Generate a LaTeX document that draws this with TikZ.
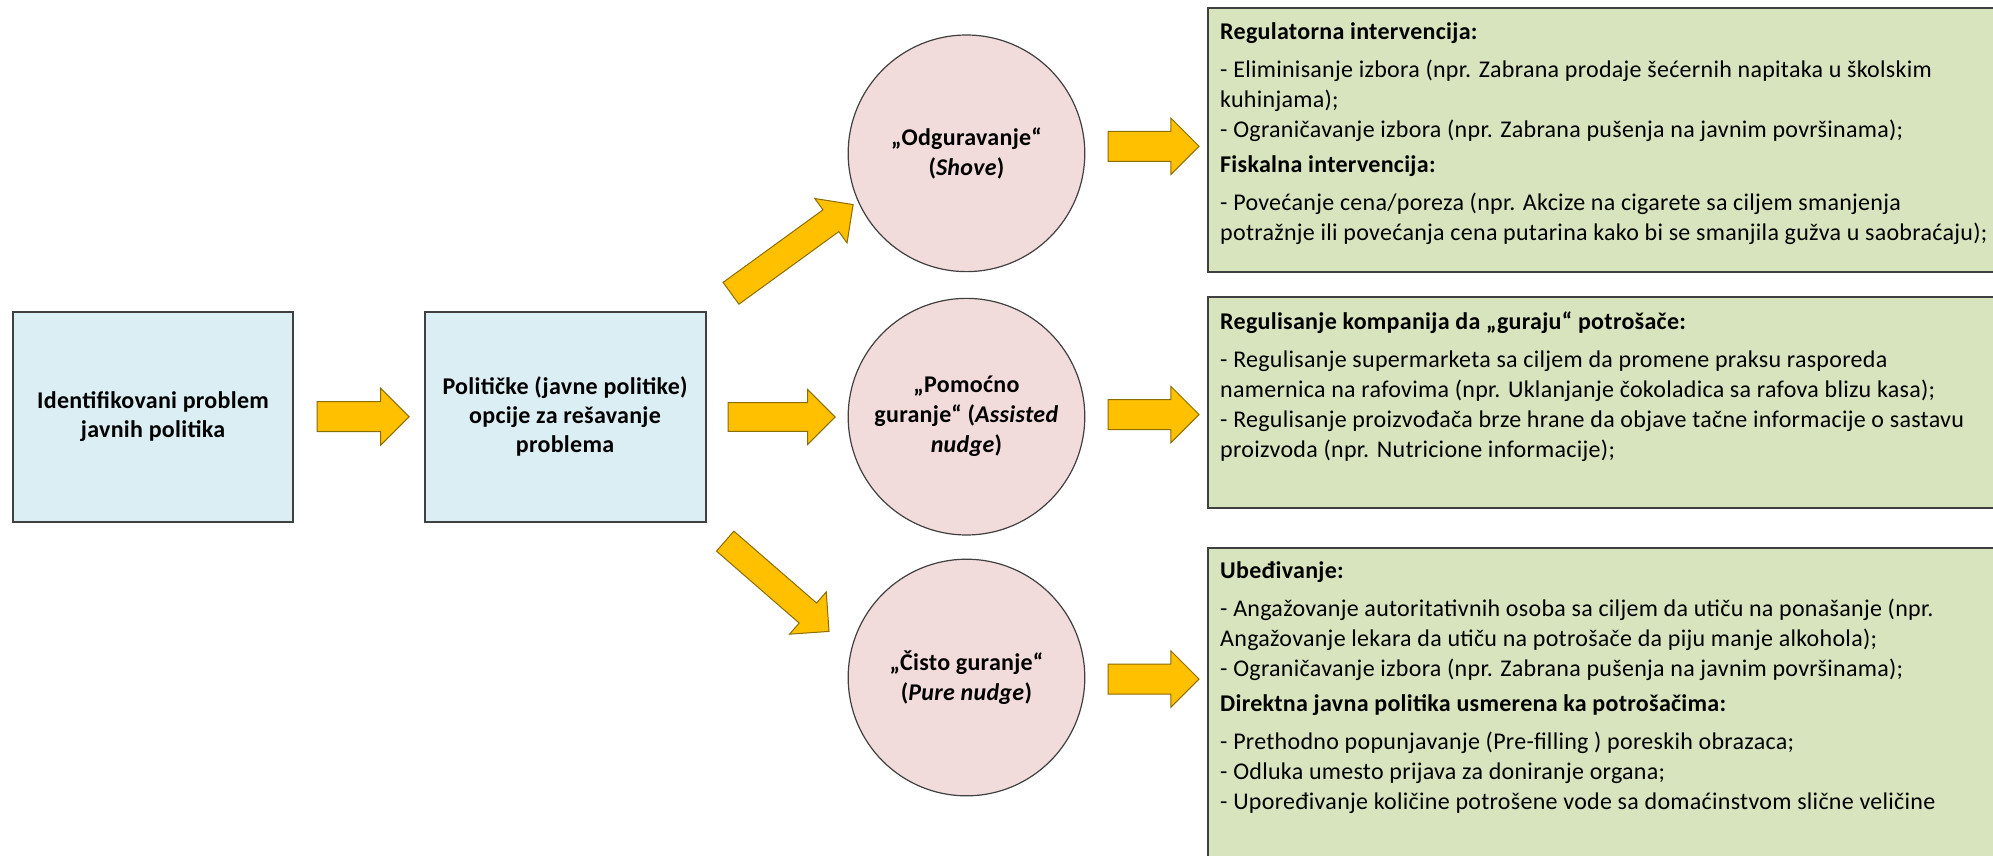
\documentclass[tikz,border=0pt]{standalone}
\usepackage{fontspec}
\setmainfont[LetterSpace=1.2]{Carlito}
\usetikzlibrary{shapes.arrows}
\pgfdeclarelayer{bg}
\pgfsetlayers{bg,main}
\definecolor{boxblue}{HTML}{DAEEF3}
\definecolor{circpink}{HTML}{F2DCDB}
\definecolor{notegreen}{HTML}{D7E4BD}
\definecolor{arrowfill}{HTML}{FFC000}
\definecolor{arrowline}{HTML}{8C6D00}
\definecolor{edgegray}{HTML}{404040}
\tikzset{
        problembox/.style={rectangle, draw=edgegray, line width=1pt, fill=boxblue, inner sep=0pt, align=center, font=\bfseries\fontsize{12}{14.5}\selectfont},
        nudge/.style={circle, draw=edgegray, line width=0.6pt, fill=circpink, inner sep=0pt, minimum size=4.158cm, align=center, font=\bfseries\fontsize{12}{15}\selectfont},
        notebox/.style={rectangle, draw=edgegray, line width=1pt, fill=notegreen, inner sep=0pt, minimum width=14.09cm},
        notetext/.style={anchor=north west, inner sep=0pt, align=left, font=\fontsize{12}{15}\selectfont},
        fatarrow/.style={single arrow, draw=arrowline, line width=0.5pt, fill=arrowfill, inner xsep=0pt, inner ysep=0.255cm, single arrow head extend=0.23cm, single arrow tip angle=90}
}

\begin{document}
\begin{tikzpicture}
        \useasboundingbox (0cm, 0cm) rectangle (35.023cm, -15.025cm);
        \clip (0cm, 0cm) rectangle (35.023cm, -15.025cm);
        \node (b0) [problembox, minimum width=4.931cm, minimum height=3.690cm] at (2.690cm, -7.323cm) {Identifikovani problem\\javnih politika};
        \node (b1) [problembox, minimum width=4.940cm, minimum height=3.690cm] at (9.930cm, -7.323cm) {Političke (javne politike)\\opcije za rešavanje\\problema};
        \node (c0) [nudge] at (16.984cm, -2.694cm) {„Odguravanje“\\(\textit{Shove})};
        \node (c1) [nudge] at (16.984cm, -7.322cm) {„Pomoćno\\guranje“ (\textit{Assisted}\\\textit{nudge})};
        \node (c2) [nudge] at (16.984cm, -11.906cm) {„Čisto guranje“\\(\textit{Pure nudge})};
        \node (g0) [notebox, minimum height=4.629cm] at (28.273cm, -2.460cm) {};
        \node (g1) [notebox, minimum height=3.708cm] at (28.273cm, -7.073cm) {};
        \node (g2) [notebox, minimum height=5.658cm] at (28.273cm, -12.459cm) {};
        \node (t0) [notetext] at ([xshift=0.225cm, yshift=-0.27cm]g0.north west) {\textbf{Regulatorna intervencija:}\\[4pt]
                - Eliminisanje izbora (npr. Zabrana prodaje šećernih napitaka u školskim\\
                kuhinjama);\\
                - Ograničavanje izbora (npr. Zabrana pušenja na javnim površinama);\\[2.5pt]
                \textbf{Fiskalna intervencija:}\\[4pt]
                - Povećanje cena/poreza (npr. Akcize na cigarete sa ciljem smanjenja\\
                potražnje ili povećanja cena putarina kako bi se smanjila gužva u saobraćaju);};
        \node (t1) [notetext] at ([xshift=0.225cm, yshift=-0.27cm]g1.north west) {\textbf{Regulisanje kompanija da „guraju“ potrošače:}\\[4pt]
                - Regulisanje supermarketa sa ciljem da promene praksu rasporeda\\
                namernica na rafovima (npr. Uklanjanje čokoladica sa rafova blizu kasa);\\
                - Regulisanje proizvođača brze hrane da objave tačne informacije o sastavu\\
                proizvoda (npr. Nutricione informacije);};
        \node (t2) [notetext] at ([xshift=0.225cm, yshift=-0.25cm]g2.north west) {\textbf{Ubeđivanje:}\\[4pt]
                - Angažovanje autoritativnih osoba sa ciljem da utiču na ponašanje (npr.\\
                Angažovanje lekara da utiču na potrošače da piju manje alkohola);\\
                - Ograničavanje izbora (npr. Zabrana pušenja na javnim površinama);\\[2.5pt]
                \textbf{Direktna javna politika usmerena ka potrošačima:}\\[4pt]
                - Prethodno popunjavanje (Pre-filling ) poreskih obrazaca;\\
                - Odluka umesto prijava za doniranje organa;\\
                - Upoređivanje količine potrošene vode sa domaćinstvom slične veličine};
        \begin{pgfonlayer}{bg}
                \node (a0) [fatarrow, minimum height=1.617cm, single arrow head extend=0.237cm] at (6.249cm, -7.323cm) {};
                \node (a1) [fatarrow, minimum height=2.653cm, inner ysep=0.228cm, single arrow head extend=0.246cm, rotate=36] at (13.823cm, -4.444cm) {};
                \node (a2) [fatarrow, minimum height=1.880cm, inner ysep=0.242cm, single arrow head extend=0.233cm] at (13.610cm, -7.328cm) {};
                \node (a3) [fatarrow, minimum height=2.418cm, inner ysep=0.224cm, single arrow head extend=0.259cm, rotate=-41] at (13.568cm, -10.226cm) {};
                \node (a4) [fatarrow, minimum height=1.599cm] at (20.139cm, -2.571cm) {};
                \node (a5) [fatarrow, minimum height=1.599cm] at (20.139cm, -7.284cm) {};
                \node (a6) [fatarrow, minimum height=1.599cm] at (20.139cm, -11.932cm) {};
        \end{pgfonlayer}
\end{tikzpicture}
\end{document}
